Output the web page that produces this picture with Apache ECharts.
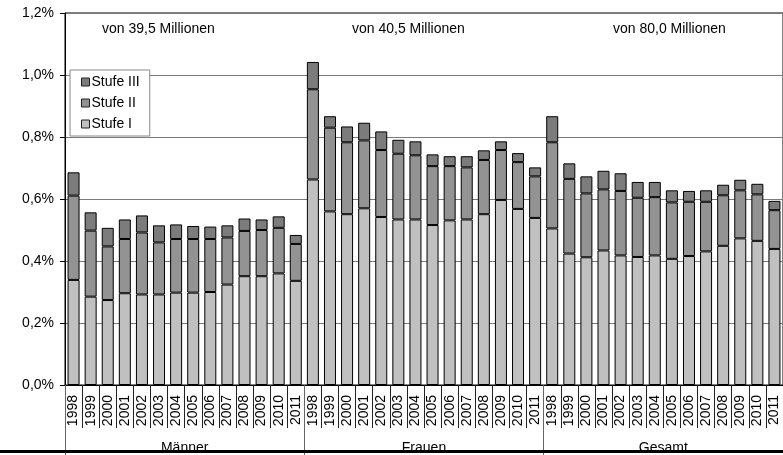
<!DOCTYPE html>
<html>
<head>
<meta charset="utf-8">
<script src="https://cdn.jsdelivr.net/npm/echarts@6/dist/echarts.min.js"></script>
<style>
  html, body { margin: 0; padding: 0; background: #fff; }
  #main { width: 783px; height: 455px; }
</style>
</head>
<body>
<div id="main"></div>
<script>
// Jahre je Gruppe
const years = ['1998', '1999', '2000', '2001', '2002', '2003', '2004', '2005', '2006', '2007', '2008', '2009', '2010', '2011'];
const groups = ['Männer', 'Frauen', 'Gesamt'];
const groupNotes = ['von 39,5 Millionen', 'von 40,5 Millionen', 'von 80,0 Millionen'];
const yTicks = [0, 0.2, 0.4, 0.6, 0.8, 1.0, 1.2];

// Anteile in %, Reihenfolge: Männer, Frauen, Gesamt
const stufe1 = [
    0.339, 0.285, 0.274, 0.296, 0.292, 0.292, 0.298, 0.298, 0.300, 0.324, 0.351, 0.351, 0.360, 0.336,
    0.663, 0.560, 0.551, 0.570, 0.542, 0.534, 0.534, 0.516, 0.531, 0.534, 0.551, 0.597, 0.568, 0.539,
    0.505, 0.424, 0.412, 0.434, 0.418, 0.413, 0.418, 0.407, 0.416, 0.431, 0.449, 0.473, 0.465, 0.439
];
const stufe2 = [
    0.272, 0.213, 0.173, 0.175, 0.200, 0.168, 0.173, 0.173, 0.171, 0.152, 0.146, 0.149, 0.147, 0.119,
    0.291, 0.270, 0.232, 0.219, 0.216, 0.212, 0.207, 0.190, 0.175, 0.168, 0.175, 0.161, 0.151, 0.134,
    0.278, 0.241, 0.206, 0.197, 0.208, 0.191, 0.188, 0.182, 0.175, 0.160, 0.163, 0.155, 0.150, 0.125
];
const stufe3 = [
    0.075, 0.059, 0.060, 0.063, 0.055, 0.055, 0.047, 0.042, 0.040, 0.039, 0.040, 0.034, 0.037, 0.029,
    0.088, 0.037, 0.051, 0.057, 0.060, 0.045, 0.045, 0.038, 0.032, 0.036, 0.031, 0.028, 0.029, 0.029,
    0.084, 0.050, 0.055, 0.060, 0.057, 0.051, 0.049, 0.039, 0.035, 0.037, 0.034, 0.034, 0.034, 0.030
];

const font = '"Liberation Sans", Arial, sans-serif';
const chart = echarts.init(document.getElementById('main'), null, { renderer: 'canvas' });

let categories = [];
groups.forEach(() => { categories = categories.concat(years); });

function pct(v) {
    return v.toFixed(1).replace('.', ',') + '%';
}

const barStyle = (color) => ({
    color: color,
    borderColor: '#000',
    borderWidth: 1
});

const option = {
    animation: false,
    backgroundColor: '#fff',
    textStyle: { fontFamily: font, color: '#000' },
    grid: {
        left: 65,
        top: 13,
        width: 722,
        height: 372,
        show: true,
        borderColor: '#000',
        borderWidth: 1,
        backgroundColor: 'transparent'
    },
    legend: {
        orient: 'vertical',
        left: 70,
        top: 70,
        padding: [5, 10, 5, 11],
        icon: 'rect',
        itemWidth: 8,
        itemHeight: 8,
        itemGap: 7,
        backgroundColor: '#fff',
        borderColor: '#888',
        borderWidth: 1,
        borderRadius: 0,
        itemStyle: { borderColor: '#222', borderWidth: 1 },
        textStyle: { fontFamily: font, fontSize: 14, color: '#000', padding: [0, 0, 0, -3] },
        data: ['Stufe III', 'Stufe II', 'Stufe I']
    },
    xAxis: [
        {
            type: 'category',
            data: categories,
            axisLine: { lineStyle: { color: '#000', width: 1 } },
            axisTick: { show: true, interval: 0, length: 43, lineStyle: { color: '#222' } },
            axisLabel: {
                interval: 0,
                rotate: 90,
                margin: 10,
                fontSize: 14,
                fontFamily: font,
                color: '#000'
            },
            splitLine: { show: false }
        },
        {
            type: 'category',
            data: groups,
            position: 'bottom',
            axisLine: { show: false },
            axisTick: { show: true, interval: 0, length: 70, lineStyle: { color: '#666' } },
            axisLabel: { interval: 0, margin: 56, fontSize: 14, fontFamily: font, color: '#000' },
            splitLine: { show: false }
        }
    ],
    yAxis: {
        type: 'value',
        min: yTicks[0],
        max: yTicks[yTicks.length - 1],
        interval: 0.2,
        axisLine: { show: true, lineStyle: { color: '#000' } },
        axisTick: { show: true, length: 5, lineStyle: { color: '#000' } },
        axisLabel: { formatter: pct, fontSize: 14, fontFamily: font, color: '#000', margin: 11 },
        splitLine: { lineStyle: { color: '#7a7a7a', width: 1 } }
    },
    series: [
        {
            name: 'Stufe I',
            type: 'bar',
            stack: 'pflege',
            barWidth: 12,
            data: stufe1,
            itemStyle: barStyle('#c0c0c0')
        },
        {
            name: 'Stufe II',
            type: 'bar',
            stack: 'pflege',
            barWidth: 12,
            data: stufe2,
            itemStyle: barStyle('#939393')
        },
        {
            name: 'Stufe III',
            type: 'bar',
            stack: 'pflege',
            barWidth: 12,
            data: stufe3,
            itemStyle: barStyle('#7c7c7c')
        }
    ],
    graphic: [
        { type: 'text', left: 102, top: 22, style: { text: groupNotes[0], font: '14px ' + font, fill: '#000' } },
        { type: 'text', left: 352, top: 22, style: { text: groupNotes[1], font: '14px ' + font, fill: '#000' } },
        { type: 'text', left: 613, top: 22, style: { text: groupNotes[2], font: '14px ' + font, fill: '#000' } },
        // dicke Linie am unteren Rand
        { type: 'rect', left: 0, top: 450, z: 100, shape: { width: 783, height: 3 }, style: { fill: '#000' } }
    ]
};

chart.setOption(option);
</script>
</body>
</html>
